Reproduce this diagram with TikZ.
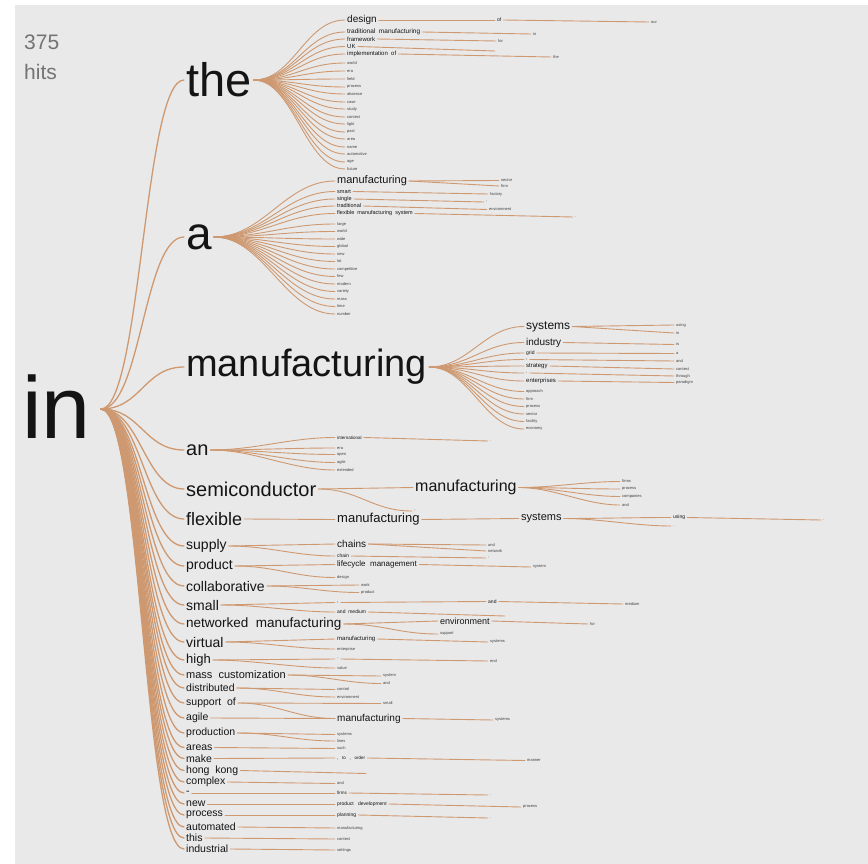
\documentclass[tikz,border=0pt]{standalone}
\usepackage{fontspec}
\setmainfont{Liberation Sans}
\definecolor{bgc}{RGB}{233,233,233}
\definecolor{twigc}{RGB}{206,153,112}
\definecolor{inkc}{RGB}{20,20,20}
\tikzset{
  twig/.style={draw=twigc, line width=0.9pt, line cap=round},
  root twig/.style={twig, line width=1.3pt},
  fan/.style={to path={.. controls +(#1,0) and +(-#1,0) .. (\tikztotarget)}},
  fan/.default=30,
  word/.style={anchor=west, inner xsep=2pt, inner ysep=0.5pt, text=inkc,
    font=\fontsize{#1}{#1}\selectfont},
  word/.default=12,
  tiny/.style={word=4, text=black!75},
}
\begin{document}
\begin{tikzpicture}[x=1pt,y=-1pt]
  \fill[bgc] (15,5) rectangle (868,864);
  \useasboundingbox (0,0) rectangle (868,864);

  % hit count
  \node[word=21, text=black!55] (cnt) at (22,42) {375};
  \node[word=21, text=black!55] (hits) at (22,72) {hits};

  % root word
  \node[word=88, inner sep=0pt] (root) at (22,407) {in};
  \coordinate (rt) at (101,409);

  % first level
  \foreach \n/\y/\fs/\w in {the/80/47/the, a/237/46/a, mf/367/38/manufacturing,
      an/450/20/an, semi/489/20/semiconductor, flex/519/18/flexible,
      sup/546/14/supply, prod/566/14/product, coll/586/14/collaborative,
      sm/605/14/small, net/624/13.5/{networked\ \ manufacturing},
      virt/642/14/virtual, high/660/13/high, mass/675/11/{mass\ \ customization},
      dist/688/10.5/distributed, supof/703/10.5/{support\ \ of}, agile/718/10.5/agile,
      prodn/733/10.5/production, areas/747.5/10.5/areas, make/758.5/10.5/make,
      hk/770.5/10.5/{hong\ \ kong}, cx/782/10.5/complex, dash/793/10.5/-,
      new/804/10.5/new, proc/815/10.5/process, auto/827/10.5/automated,
      this/838/10.5/this, ind/849/10.5/industrial}
  {
    \node[word=\fs] (\n) at (184,\y) {\w};
    \draw[root twig] (rt) to[fan=40] (\n.west);
  }

  % the ...
  \node[word=10] (design) at (345,20) {design};
  \node[word=6.5] (tradm) at (345,32) {traditional\ \ manufacturing};
  \node[word=6] (frame) at (345,39) {framework};
  \node[word=6] (uk) at (345,46.5) {UK};
  \node[word=6] (impl) at (345,54) {implementation\ \ of};
  \foreach \c in {design,tradm,frame,uk,impl}
    \draw[twig] (the.east) to[fan=40] (\c.west);
  \foreach \y/\w [count=\i] in {63/world, 71/era, 79/field, 87/process, 94/absence,
      102/case, 109/study, 117/context, 124/light, 132/past, 139/area, 147/name,
      154/automotive, 162/age, 169/future}
  {
    \node[tiny] (th\i) at (345,\y) {\w};
    \draw[twig] (the.east) to[fan=40] (th\i.west);
  }
  \node[word=5] (of1) at (495,20) {of};
  \node[tiny] (our) at (649,22) {our};
  \node[tiny] (tm2) at (531,34) {in};
  \node[tiny] (fr2) at (496,41) {for};
  \coordinate (uk2) at (495,51);
  \node[tiny] (im2) at (551,57) {the};
  \draw[twig] (design.east) to (of1.west);
  \draw[twig] (of1.east) to (our.west);
  \draw[twig] (tradm.east) to (tm2.west);
  \draw[twig] (frame.east) to (fr2.west);
  \draw[twig] (uk.east) to (uk2);
  \draw[twig] (impl.east) to (im2.west);

  % a ...
  \node[word=11] (amf) at (335,181) {manufacturing};
  \node[word=5.5] (smart) at (335,191.5) {smart};
  \node[word=5.5] (single) at (335,199) {single};
  \node[word=5.5] (trad) at (335,206) {traditional};
  \node[word=5.5] (fms) at (335,213.5) {flexible\ \ manufacturing\ \ system};
  \foreach \c in {amf,smart,single,trad,fms}
    \draw[twig] (a.east) to[fan=50] (\c.west);
  \foreach \y/\w [count=\i] in {224/large, 231.5/world, 239/wide, 246.5/global,
      254/new, 261.5/lot, 269/competitive, 276.5/few, 284/modern, 291.5/variety,
      299/mass, 306.5/time, 314/number}
  {
    \node[tiny] (aa\i) at (335,\y) {\w};
    \draw[twig] (a.east) to[fan=50] (aa\i.west);
  }
  \node[tiny] (amf1) at (499,180.5) {sector};
  \node[tiny] (amf2) at (499,186) {firm};
  \node[tiny] (smart2) at (488,194) {factory};
  \node[tiny] (single2) at (484,202) {,};
  \node[tiny] (trad2) at (487,209.5) {environment};
  \node[tiny] (fms2) at (573,217) {.};
  \draw[twig] (amf.east) to (amf1.west);
  \draw[twig] (amf.east) to (amf2.west);
  \draw[twig] (smart.east) to (smart2.west);
  \draw[twig] (single.east) to (single2.west);
  \draw[twig] (trad.east) to (trad2.west);
  \draw[twig] (fms.east) to (fms2.west);

  % manufacturing ...
  \node[word=12] (msys) at (524,326.5) {systems};
  \node[word=10] (mind) at (524,342.5) {industry};
  \node[word=5] (mgrid) at (524,353) {grid};
  \node[word=5] (mcom) at (524,359.5) {,};
  \node[word=6] (mstr) at (524,366) {strategy};
  \node[word=5] (mdot) at (524,373) {.};
  \node[word=6] (ment) at (524,381) {enterprises};
  \foreach \c in {msys,mind,mgrid,mcom,mstr,mdot,ment}
    \draw[twig] (mf.east) to[fan=40] (\c.west);
  \foreach \y/\w [count=\i] in {391.5/approach, 399/firm, 406.5/process,
      414/sector, 421.5/facility, 429/economy}
  {
    \node[tiny] (mm\i) at (524,\y) {\w};
    \draw[twig] (mf.east) to[fan=40] (mm\i.west);
  }
  \foreach \c/\y/\w [count=\i] in {msys/325/using, msys/333/in, mind/344.5/is,
      mgrid/353.5/a, mcom/361/and, mstr/369/context, mdot/376/through,
      ment/382.5/paradigm}
  {
    \node[tiny] (mx\i) at (674,\y) {\w};
    \draw[twig] (\c.east) to (mx\i.west);
  }

  % an ...
  \node[word=4.5] (intl) at (335,437.5) {international};
  \foreach \c in {intl}
    \draw[twig] (an.east) to[fan=45] (\c.west);
  \foreach \y/\w [count=\i] in {448/era, 454.5/open, 462.5/agile, 470/extended}
  {
    \node[tiny] (an\i) at (335,\y) {\w};
    \draw[twig] (an.east) to[fan=45] (an\i.west);
  }
  \node[tiny] (intl2) at (488,441) {.};
  \draw[twig] (intl.east) to (intl2.west);

  % semiconductor ...
  \node[word=16] (smf) at (413,487.5) {manufacturing};
  \node[tiny] (sdash) at (412,511) {-};
  \draw[twig] (semi.east) to (smf.west);
  \draw[twig] (semi.east) to[fan=40] (sdash.west);
  \foreach \y/\w [count=\i] in {481.5/firms, 489/process, 496.5/companies, 505/and}
  {
    \node[tiny] (sm\i) at (620,\y) {\w};
    \draw[twig] (smf.east) to[fan=35] (sm\i.west);
  }

  % flexible ...
  \node[word=13] (fmf) at (335,519.5) {manufacturing};
  \node[word=11] (fsys) at (519,518.5) {systems};
  \node[word=5] (fuse) at (671,517.5) {using};
  \node[tiny] (fdot) at (671,526) {.};
  \node[tiny] (fend) at (821,520) {.};
  \draw[twig] (flex.east) to (fmf.west);
  \draw[twig] (fmf.east) to (fsys.west);
  \draw[twig] (fsys.east) to[fan=35] (fuse.west);
  \draw[twig] (fsys.east) to[fan=35] (fdot.west);
  \draw[twig] (fuse.east) to (fend.west);

  % supply, product, collaborative
  \node[word=10] (chains) at (335,544) {chains};
  \node[word=5] (chain) at (335,556) {chain};
  \node[tiny] (ch1) at (486,545) {and};
  \node[tiny] (ch2) at (486,551) {network};
  \node[tiny] (ch3) at (486,558) {,};
  \draw[twig] (sup.east) to (chains.west);
  \draw[twig] (sup.east) to[fan=40] (chain.west);
  \draw[twig] (chains.east) to (ch1.west);
  \draw[twig] (chains.east) to (ch2.west);
  \draw[twig] (chain.east) to (ch3.west);
  \node[word=8] (plm) at (335,564.5) {lifecycle\ \ management};
  \node[tiny] (pdes) at (335,577.5) {design};
  \node[tiny] (plm2) at (531,567) {system};
  \draw[twig] (prod.east) to (plm.west);
  \draw[twig] (prod.east) to[fan=40] (pdes.west);
  \draw[twig] (plm.east) to (plm2.west);
  \node[tiny] (co1) at (359,585) {work};
  \node[tiny] (co2) at (359,592.5) {product};
  \draw[twig] (coll.east) to (co1.west);
  \draw[twig] (coll.east) to[fan=35] (co2.west);

  % small, networked, virtual, high
  \node[word=5] (smc) at (335,602.5) {,};
  \node[word=5] (smm) at (335,612) {and\ \ medium};
  \node[word=5] (sma) at (486,601.5) {and};
  \node[tiny] (smz) at (623,604) {medium};
  \coordinate (smm2) at (505,616);
  \draw[twig] (sm.east) to (smc.west);
  \draw[twig] (sm.east) to[fan=40] (smm.west);
  \draw[twig] (smc.east) to (sma.west);
  \draw[twig] (sma.east) to (smz.west);
  \draw[twig] (smm.east) to (smm2);
  \node[word=9] (env) at (438,621) {environment};
  \node[tiny] (nsup) at (438,634) {support};
  \node[tiny] (env2) at (588,624) {for};
  \draw[twig] (net.east) to (env.west);
  \draw[twig] (net.east) to[fan=40] (nsup.west);
  \draw[twig] (env.east) to (env2.west);
  \node[word=6] (vmf) at (335,639) {manufacturing};
  \node[tiny] (vent) at (335,649) {enterprise};
  \node[tiny] (vmf2) at (488,642) {systems};
  \draw[twig] (virt.east) to (vmf.west);
  \draw[twig] (virt.east) to[fan=40] (vent.west);
  \draw[twig] (vmf.east) to (vmf2.west);
  \node[tiny] (hc) at (335,659) {-};
  \node[tiny] (hv) at (335,668) {value};
  \node[tiny] (hend) at (488,661) {end};
  \draw[twig] (high.east) to (hc.west);
  \draw[twig] (high.east) to[fan=40] (hv.west);
  \draw[twig] (hc.east) to (hend.west);

  % mass customization ... production
  \node[tiny] (ms1) at (381,676) {system};
  \node[tiny] (ms2) at (381,683.5) {and};
  \draw[twig] (mass.east) to (ms1.west);
  \draw[twig] (mass.east) to[fan=35] (ms2.west);
  \node[tiny] (ds1) at (335,689.5) {control};
  \node[tiny] (ds2) at (335,697) {environment};
  \draw[twig] (dist.east) to (ds1.west);
  \draw[twig] (dist.east) to[fan=40] (ds2.west);
  \node[tiny] (so1) at (381,703.5) {small};
  \node[word=10] (agm) at (335,718.5) {manufacturing};
  \node[tiny] (agm2) at (493,720) {systems};
  \draw[twig] (supof.east) to (so1.west);
  \draw[twig] (supof.east) to[fan=40] (agm.west);
  \draw[twig] (agile.east) to (agm.west);
  \draw[twig] (agm.east) to (agm2.west);
  \node[tiny] (pn1) at (335,734.5) {systems};
  \node[tiny] (pn2) at (335,741) {lines};
  \draw[twig] (prodn.east) to (pn1.west);
  \draw[twig] (prodn.east) to[fan=40] (pn2.west);

  % single followers
  \foreach \c/\y/\w [count=\i] in {areas/748.5/such, cx/783.5/and,
      auto/828/manufacturing, this/839/context, ind/850/settings}
  {
    \node[tiny] (sf\i) at (335,\y) {\w};
    \draw[twig] (\c.east) to (sf\i.west);
  }
  \node[word=4.5] (mk1) at (335,758) {,\ \ \ to\ \ \ ,\ \ \ order};
  \node[tiny] (mk2) at (525,760.5) {manner};
  \draw[twig] (make.east) to (mk1.west);
  \draw[twig] (mk1.east) to (mk2.west);
  \coordinate (hk2) at (366,773.5);
  \draw[twig] (hk.east) to (hk2);
  \node[word=4.5] (firms) at (335,793) {firms};
  \node[tiny] (firms2) at (488,795) {.};
  \draw[twig] (dash.east) to (firms.west);
  \draw[twig] (firms.east) to (firms2.west);
  \node[word=5] (npd) at (335,804) {product\ \ \ development};
  \node[tiny] (npd2) at (521,807) {process};
  \draw[twig] (new.east) to (npd.west);
  \draw[twig] (npd.east) to (npd2.west);
  \node[word=5] (plan) at (335,815) {planning};
  \node[tiny] (plan2) at (488,818) {.};
  \draw[twig] (proc.east) to (plan.west);
  \draw[twig] (plan.east) to (plan2.west);
\end{tikzpicture}
\end{document}
